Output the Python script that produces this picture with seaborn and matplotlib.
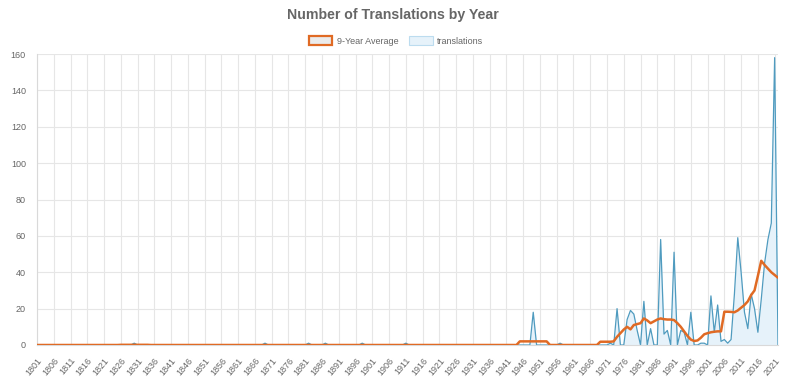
import matplotlib
matplotlib.use("Agg")
import matplotlib.pyplot as plt
from matplotlib.patches import Patch
import seaborn as sns
import pandas as pd
import numpy as np

# ---- data ----
first_year = 1801
last_year = 2022

# translations per year (years not listed = 0)
translation_years = [1830, 1869, 1882, 1887, 1898, 1911, 1949, 1957,
                     1972, 1974, 1977, 1978, 1979, 1980, 1982, 1984, 1987, 1988, 1989,
                     1991, 1993, 1994, 1996, 1999, 2000, 2002, 2003, 2004, 2005, 2006,
                     2007, 2008, 2009, 2010, 2011, 2012, 2013, 2014, 2015, 2016, 2017,
                     2018, 2019, 2020, 2021]
translation_counts = [1, 1, 1, 1, 1, 1, 18, 1,
                      1, 20, 14, 19, 17, 8, 24, 9, 58, 6, 8,
                      51, 8, 7, 18, 1, 1, 27, 7, 22, 2, 3,
                      1, 3, 28, 59, 40, 18, 9, 28, 20, 7, 25,
                      45, 58, 67, 158]

# 9-year average (years not listed = 0)
avg_years = [1826, 1827, 1828, 1829, 1830, 1831, 1832, 1833, 1834,
             1945, 1946, 1947, 1948, 1949, 1950, 1951, 1952, 1953,
             1969, 1970, 1971, 1972, 1973, 1974, 1975, 1976, 1977, 1978, 1979,
             1980, 1981, 1982, 1983, 1984, 1985, 1986, 1987, 1988, 1989, 1990,
             1991, 1992, 1993, 1994, 1995, 1996, 1997, 1998, 1999, 2000, 2001,
             2002, 2003, 2004, 2005, 2006, 2007, 2008, 2009, 2010, 2011, 2012,
             2013, 2014, 2015, 2016, 2017, 2018, 2019, 2020, 2021, 2022]
avg_values = [0.1, 0.1, 0.1, 0.1, 0.1, 0.1, 0.1, 0.1, 0.1,
              2, 2, 2, 2, 2, 2, 2, 2, 2,
              1.8, 1.8, 1.8, 1.8, 2.0, 4.5, 6.5, 8.5, 10, 8.6, 11,
              11.5, 12, 14.6, 13.5, 12, 13, 14, 14.6, 14.2, 14, 14,
              13.7, 12, 10, 7.5, 5, 3, 2.2, 2.5, 4, 5.9, 6.5,
              7, 7.3, 7.5, 7.5, 18.3, 18.3, 18.2, 18, 19, 20.5, 22,
              24, 27.5, 30, 38, 46.3, 44, 42, 40, 38.5, 37]

title = "Number of Translations by Year"
label_avg = "9-Year Average"
label_tr = "translations"

# ---- build frame ----
years = pd.RangeIndex(first_year, last_year + 1, name="year")
tr = pd.Series(translation_counts, index=translation_years).reindex(years, fill_value=0)
av = pd.Series(avg_values, index=avg_years).reindex(years, fill_value=0)
df = pd.DataFrame({"year": years, "translations": tr.values, "avg": av.values})

# ---- style ----
sns.set_theme(style="white")
plt.rcParams["font.family"] = ["Liberation Sans", "DejaVu Sans"]
text_col = "#666666"
grid_col = "#e6e6e6"
blue = "#4f9bbf"
blue_fill = "#e6f2fa"
orange = "#e06a24"

fig = plt.figure(figsize=(8.0, 3.78), dpi=100)
ax = fig.add_axes([37 / 800, (378 - 345) / 378, 741 / 800, 291 / 378])

ax.fill_between(df["year"], 0, df["translations"], color=blue_fill, zorder=1, linewidth=0)
sns.lineplot(data=df, x="year", y="translations", ax=ax, color=blue, linewidth=0.9, zorder=2)
sns.lineplot(data=df, x="year", y="avg", ax=ax, color=orange, linewidth=1.8, zorder=3)

ax.set_xlim(first_year, last_year)
ax.set_ylim(0, 160)
ax.set_xlabel("")
ax.set_ylabel("")

xt = list(range(first_year, last_year + 1, 5))
ax.set_xticks(xt)
ax.set_xticklabels([str(y) for y in xt], rotation=50, ha="right", rotation_mode="anchor",
                   fontsize=6.5, color=text_col)
ax.set_yticks(range(0, 161, 20))
ax.set_yticklabels([str(v) for v in range(0, 161, 20)], fontsize=6.5, color=text_col)
ax.tick_params(axis="both", length=6, width=0.8, color=grid_col, pad=2)
ax.grid(True, color=grid_col, linewidth=0.8)
ax.set_axisbelow(True)
for s in ["top", "right"]:
    ax.spines[s].set_visible(False)
for s in ["left", "bottom"]:
    ax.spines[s].set_color("#d9d9d9")
    ax.spines[s].set_linewidth(0.8)

fig.text(393 / 800, 1 - 15 / 378, title, ha="center", va="center", fontsize=10.2,
         fontweight="bold", color=text_col)

handles = [Patch(facecolor="#ebebeb", edgecolor=orange, linewidth=1.6),
           Patch(facecolor=blue_fill, edgecolor="#bcdcef", linewidth=0.8)]
fig.legend(handles, [label_avg, label_tr], loc="center", bbox_to_anchor=(396 / 800, 1 - 41 / 378),
           ncol=2, frameon=False, fontsize=6.5, handlelength=2.6, handleheight=1.0,
           columnspacing=1.2, handletextpad=0.5, labelcolor=text_col)

fig.savefig("out.png", dpi=100)
